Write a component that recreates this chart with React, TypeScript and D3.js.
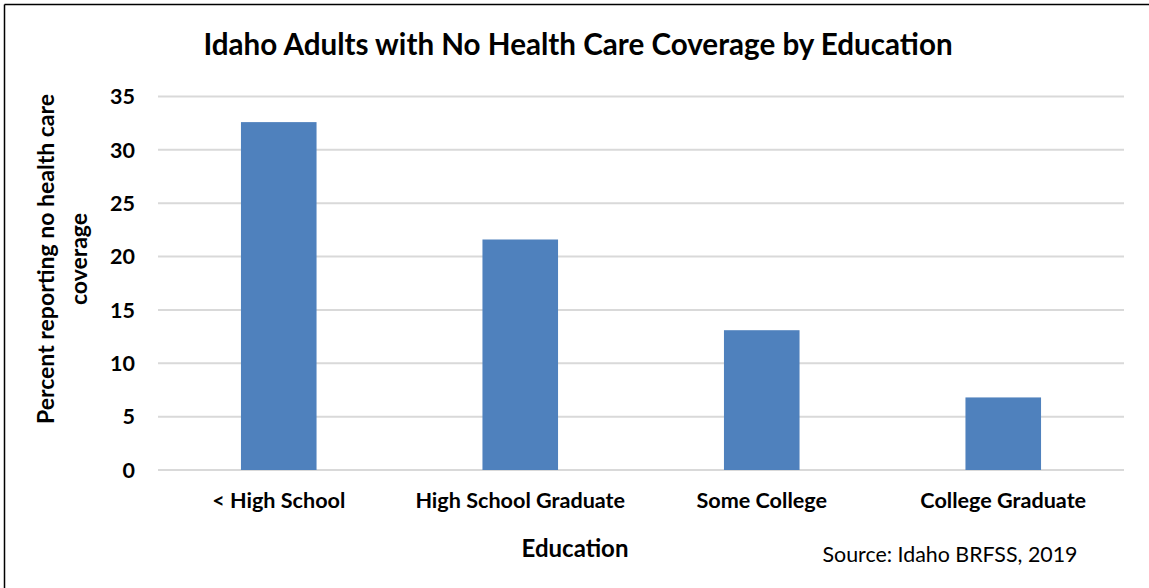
import React from "react";
import * as d3 from "d3";

const categories = ["< High School", "High School Graduate", "Some College", "College Graduate"];
const values = [32.6, 21.6, 13.1, 6.8];
const yTicks = [0, 5, 10, 15, 20, 25, 30, 35];
const titleText = "Idaho Adults with No Health Care Coverage by Education";
const yTitleLines = ["Percent reporting no health care", "coverage"];
const xTitle = "Education";
const sourceText = "Source: Idaho BRFSS, 2019";

const W = 1149;
const H = 588;
const FONT = "Lato, 'Open Sans', sans-serif";

export default function App() {
  const left = 158;
  const right = 1124;
  const top = 96.5;
  const bottom = 470;

  const x = d3.scaleBand<string>().domain(categories).range([left, right]).paddingInner(0).paddingOuter(0);
  const y = d3.scaleLinear().domain([0, 35]).range([bottom, top]);
  const barW = x.bandwidth() * 0.313;

  return (
    <svg width={W} height={H} style={{ position: "absolute", left: 0, top: 0, background: "#fff" }}>
      <rect x={0} y={0} width={W} height={H} fill="#fff" />
      <line x1={4.5} y1={4.5} x2={W} y2={4.5} stroke="#000" strokeWidth={1.5} />
      <line x1={4.5} y1={4.5} x2={4.5} y2={H} stroke="#000" strokeWidth={1.5} />
      <text x={578} y={55} textAnchor="middle" fontFamily={FONT} fontWeight={700} fontSize={29.6} fill="#000">
        {titleText}
      </text>
      {yTicks.map((t) => (
        <g key={t}>
          <line x1={left} x2={right} y1={y(t)} y2={y(t)} stroke="#d9d9d9" strokeWidth={2} />
          <text x={135} y={y(t)} dy="0.36em" textAnchor="end" fontFamily={FONT} fontWeight={700} fontSize={21.5} fill="#000">
            {t}
          </text>
        </g>
      ))}
      {categories.map((c, i) => (
        <rect
          key={c}
          x={x(c)! + x.bandwidth() / 2 - barW / 2}
          y={y(values[i])}
          width={barW}
          height={y(0) - y(values[i])}
          fill="#4f81bd"
        />
      ))}
      {categories.map((c) => (
        <text key={c} x={x(c)! + x.bandwidth() / 2} y={508} textAnchor="middle" fontFamily={FONT} fontWeight={700} fontSize={21.6} fill="#000">
          {c}
        </text>
      ))}
      <text x={575} y={557} textAnchor="middle" fontFamily={FONT} fontWeight={700} fontSize={24} fill="#000">
        {xTitle}
      </text>
      <text x={950} y={562} textAnchor="middle" fontFamily={FONT} fontWeight={400} fontSize={21.4} fill="#000">
        {sourceText}
      </text>
      <g transform="translate(0,259) rotate(-90)">
        <text x={0} y={54} textAnchor="middle" fontFamily={FONT} fontWeight={700} fontSize={23} fill="#000">
          {yTitleLines[0]}
        </text>
        <text x={0} y={87} textAnchor="middle" fontFamily={FONT} fontWeight={700} fontSize={23} fill="#000">
          {yTitleLines[1]}
        </text>
      </g>
    </svg>
  );
}
